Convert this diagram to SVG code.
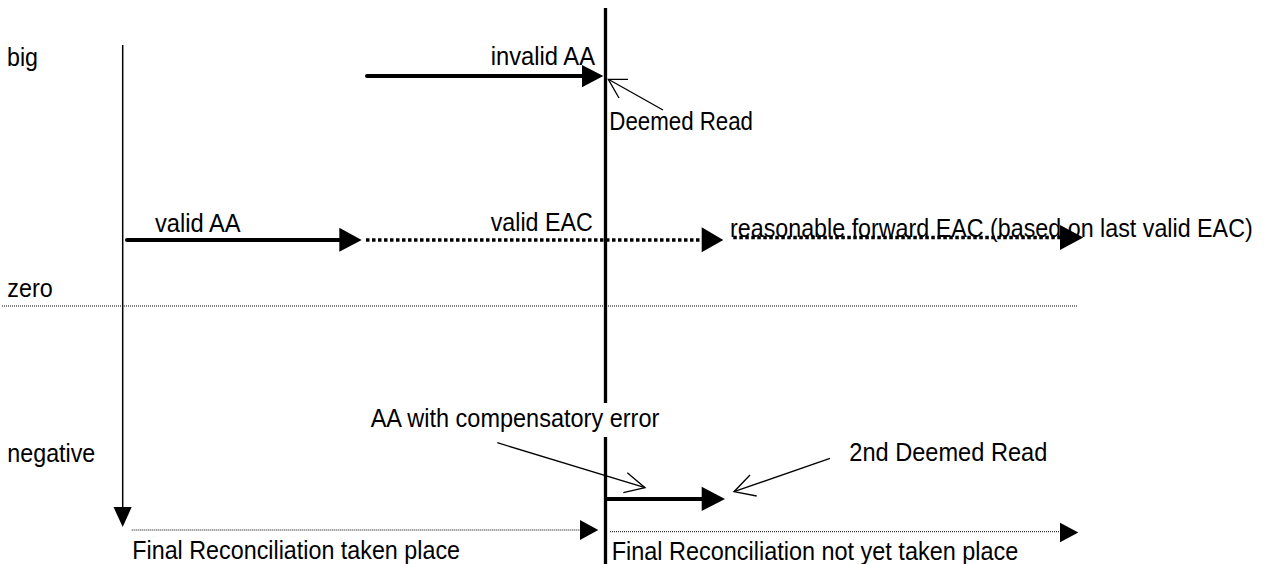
<svg xmlns="http://www.w3.org/2000/svg" width="1269" height="564" viewBox="0 0 1269 564">
<style>
text { font-family: "Liberation Sans", Arial, sans-serif; font-size: 25px; fill: #000; }
.thin { stroke: #000; stroke-width: 1.5; fill: none; }
.bold { stroke: #000; stroke-width: 4; fill: none; stroke-linecap: round; }
.dash { stroke: #000; stroke-width: 3.5; fill: none; stroke-dasharray: 3.5 2.5; }
.dot { stroke: #000; stroke-width: 1; fill: none; stroke-dasharray: 1 1; }
.ptr { stroke: #000; stroke-width: 1.3; fill: none; }
.head { fill: #000; stroke: none; }
</style>
<rect width="1269" height="564" fill="#fff"/>
<g id="connectors">
  <!-- left axis -->
  <line class="thin" x1="122.7" y1="45" x2="122.7" y2="508"/>
  <polygon class="head" points="113.5,507 131.7,507 122.7,527"/>
  <!-- central divider -->
  <line x1="605.5" y1="8" x2="605.5" y2="564" stroke="#000" stroke-width="3.3"/>
  <!-- zero line -->
  <line class="dot" x1="2" y1="306" x2="1077" y2="306"/>
  <!-- invalid AA -->
  <line class="bold" x1="367" y1="76" x2="584" y2="76"/>
  <polygon class="head" points="582,65 603.3,76 582,87.3"/>
  <!-- valid AA -->
  <line class="bold" x1="127" y1="240" x2="341" y2="240"/>
  <polygon class="head" points="339.3,227.7 361.7,240 339.3,251.7"/>
  <!-- valid EAC dotted -->
  <line class="dash" x1="366" y1="240" x2="702" y2="240"/>
  <polygon class="head" points="701.7,227.3 723.3,240 701.7,252.3"/>
  <!-- reasonable forward dotted -->
  <line class="dash" x1="733.3" y1="237.5" x2="1060" y2="237.5"/>
  <polygon class="head" points="1060,225 1083.3,237.5 1060,250"/>
  <!-- bottom left dotted -->
  <line class="dot" x1="131.7" y1="530" x2="581" y2="530"/>
  <polygon class="head" points="580,520 598.3,530 580,540"/>
  <!-- bottom right dotted -->
  <line class="dot" x1="610" y1="531.7" x2="1061" y2="531.7"/>
  <polygon class="head" points="1060,522.7 1078.3,532.5 1060,542.3"/>
  <!-- compensatory bold arrow -->
  <line x1="606" y1="499" x2="703" y2="499" stroke="#000" stroke-width="4"/>
  <polygon class="head" points="701.7,486.7 725,499 701.7,511"/>
  <!-- pointer: Deemed Read -->
  <line class="ptr" x1="663" y1="110" x2="608.3" y2="79.3"/>
  <polyline class="ptr" points="628,79.3 608.3,79.3 619,98"/>
  <!-- pointer: AA with compensatory error -->
  <line class="ptr" x1="497.3" y1="442.7" x2="645" y2="487.7"/>
  <polyline class="ptr" points="627.3,472.7 645,487.7 623.3,492.7"/>
  <!-- pointer: 2nd Deemed Read -->
  <line class="ptr" x1="830" y1="458.3" x2="734" y2="491.7"/>
  <polyline class="ptr" points="750,475 734,491.7 756.7,496"/>
</g>
<g id="label-big"><text x="7" y="66" textLength="31" lengthAdjust="spacingAndGlyphs">big</text></g>
<g id="label-zero"><text x="7.3" y="297.3" textLength="45.4" lengthAdjust="spacingAndGlyphs">zero</text></g>
<g id="label-negative"><text x="7.3" y="461.7" textLength="88" lengthAdjust="spacingAndGlyphs">negative</text></g>
<g id="label-invalid-aa"><text x="490.7" y="65" textLength="104.3" lengthAdjust="spacingAndGlyphs">invalid AA</text></g>
<g id="label-deemed-read"><text x="609.3" y="130" textLength="143.7" lengthAdjust="spacingAndGlyphs">Deemed Read</text></g>
<g id="label-valid-aa"><text x="155" y="231.7" textLength="85.7" lengthAdjust="spacingAndGlyphs">valid AA</text></g>
<g id="label-valid-eac"><text x="490.7" y="230.7" textLength="102" lengthAdjust="spacingAndGlyphs">valid EAC</text></g>
<g id="label-reasonable"><text x="730" y="236.5" textLength="522.7" lengthAdjust="spacingAndGlyphs">reasonable forward EAC (based on last valid EAC)</text></g>
<g id="label-compensatory">
  <rect x="368" y="403" width="294" height="34" fill="#fff"/>
  <text x="370.7" y="426.7" textLength="288.6" lengthAdjust="spacingAndGlyphs">AA with compensatory error</text>
</g>
<g id="label-2nd-deemed-read"><text x="849.3" y="461" textLength="198" lengthAdjust="spacingAndGlyphs">2nd Deemed Read</text></g>
<g id="label-final-taken"><text x="132.3" y="559.3" textLength="327.7" lengthAdjust="spacingAndGlyphs">Final Reconciliation taken place</text></g>
<g id="label-final-not-taken"><text x="611.7" y="560" textLength="406.6" lengthAdjust="spacingAndGlyphs">Final Reconciliation not yet taken place</text></g>
</svg>
